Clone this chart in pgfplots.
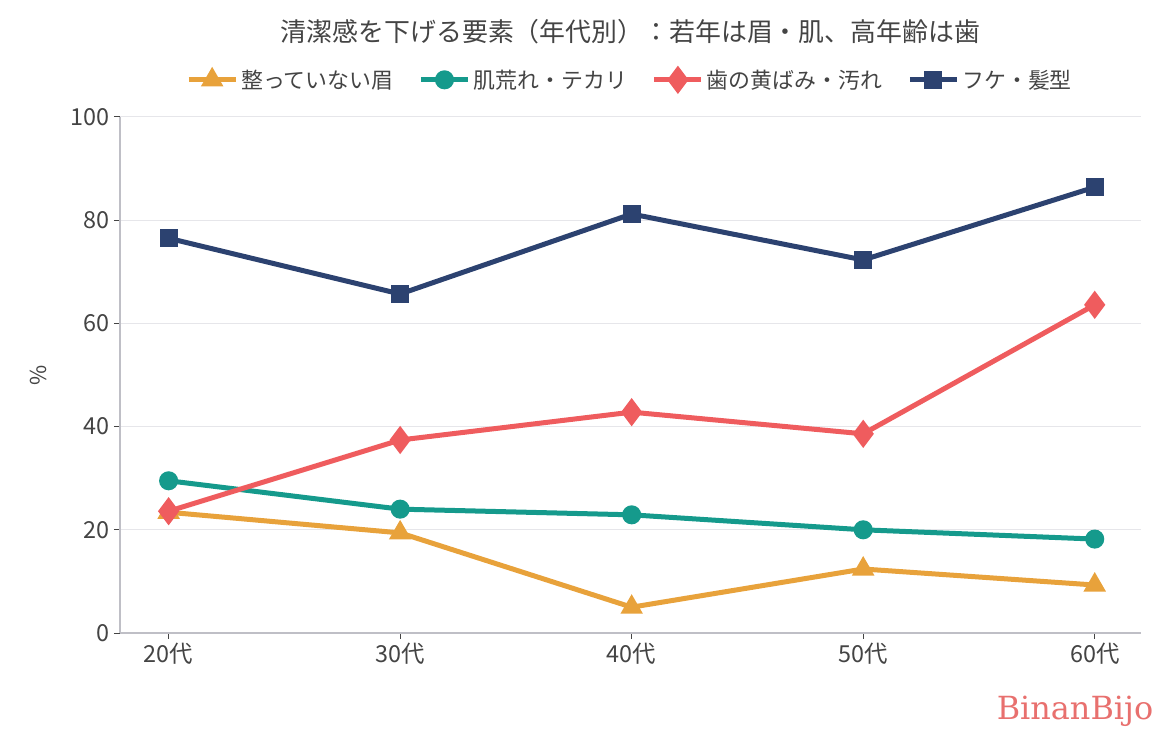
\documentclass[border=0pt]{standalone}
\usepackage{pgfplots}
\pgfplotsset{compat=1.18}
\usepackage{fontspec}
\setmainfont{Noto Sans CJK JP}
\newfontfamily\wmfont{DejaVu Serif}
\definecolor{cOrange}{HTML}{E8A23B}
\definecolor{cTeal}{HTML}{159A8C}
\definecolor{cRed}{HTML}{EF5C5E}
\definecolor{cNavy}{HTML}{2C4270}
\definecolor{cText}{HTML}{444444}
\definecolor{cAxis}{HTML}{BFBFC6}
\definecolor{cGrid}{HTML}{E6E6EA}
\definecolor{cWm}{HTML}{E8706E}
\begin{document}
\begin{tikzpicture}
\path[use as bounding box] (-120bp,-102bp) rectangle (1050bp,633bp);
\begin{axis}[
  scale only axis,
  width=1021bp, height=516bp,
  at={(0,0)}, anchor=south west,
  xmin=-0.21, xmax=4.2,
  ymin=0, ymax=100,
  xtick={0,1,2,3,4},
  xticklabels={20代,30代,40代,50代,60代},
  ytick={0,20,40,60,80,100},
  axis lines=left,
  axis line style={draw=cAxis, line width=1.3bp, -},
  tick align=outside,
  major tick length=6bp,
  tick style={draw=cText, line width=1bp},
  ymajorgrids,
  grid style={draw=cGrid, line width=1bp},
  /pgf/number format/assume math mode=true,
  ticklabel style={font=\fontsize{23.5}{27}\selectfont, text=cText},
  yticklabel style={xshift=-1bp},
  xticklabel style={yshift=-1bp},
  ylabel={\%},
  ylabel style={at={(axis description cs:-0.08,0.5)}, anchor=center, font=\fontsize{22}{25}\selectfont, text=cText},
  title={清潔感を下げる要素（年代別）：若年は眉・肌、高年齢は歯},
  title style={at={(axis description cs:0.5,1.153)}, anchor=center, font=\fontsize{26}{30}\selectfont, text=cText},
  legend columns=4,
  legend style={draw=none, fill=none, at={(axis description cs:0.5,1.072)}, anchor=center,
    font=\fontsize{22}{25}\selectfont, text=cText,
    /tikz/every even column/.append style={column sep=22bp},
    nodes={inner sep=3bp}},
  legend image code/.code={\draw[mark repeat=2,mark phase=2] plot coordinates {(0bp,0bp) (23.5bp,0bp) (47bp,0bp)};},
  every axis plot/.append style={line width=5bp},
  clip=false,
]
\addplot[color=cOrange, mark=triangle*, mark size=8bp, mark options={solid}] coordinates {(0,23.4) (1,19.4) (2,5.0) (3,12.4) (4,9.3)};
\addlegendentry{整っていない眉}
\addplot[color=cTeal, mark=*, mark size=7bp] coordinates {(0,29.5) (1,24.0) (2,22.9) (3,20.0) (4,18.2)};
\addlegendentry{肌荒れ・テカリ}
\addplot[color=cRed, mark=diamond*, mark size=10bp] coordinates {(0,23.6) (1,37.4) (2,42.8) (3,38.6) (4,63.6)};
\addlegendentry{歯の黄ばみ・汚れ}
\addplot[color=cNavy, mark=square*, mark size=6.5bp] coordinates {(0,76.5) (1,65.7) (2,81.2) (3,72.3) (4,86.4)};
\addlegendentry{フケ・髪型}
\end{axis}
\node[anchor=center, text=cWm, font=\wmfont\fontsize{32}{35}\selectfont] at (1075bp-120bp,-78bp) {BinanBijo};
\end{tikzpicture}
\end{document}
